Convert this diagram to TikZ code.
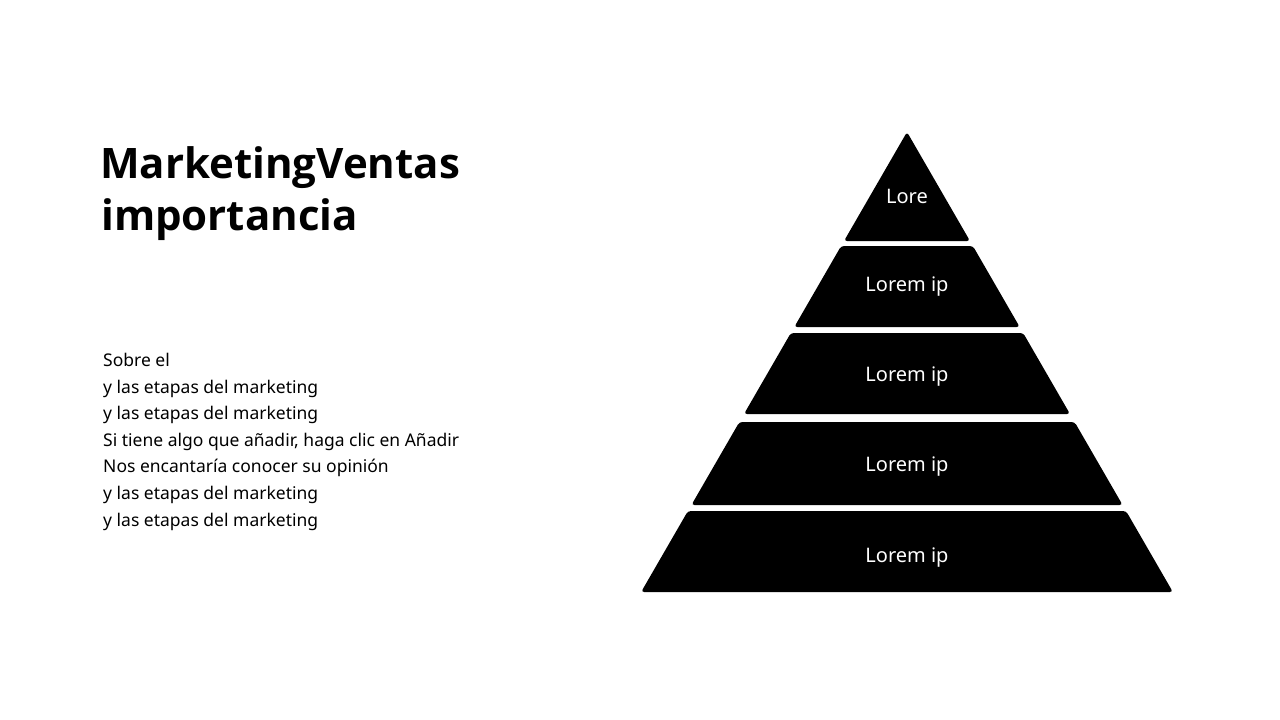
\documentclass[tikz,border=0pt]{standalone}
\usepackage{fontspec}
\setmainfont{Noto Sans}
\newfontfamily\titlefont{Open Sans}
\begin{document}
\begin{tikzpicture}[x=1pt,y=-1pt,
  tier/.style={fill=black,rounded corners=3pt},
  lab/.style={text=white,font=\fontsize{20}{24}\selectfont}]
\useasboundingbox (0,0) rectangle (1280,720);
\def\hw#1{(#1-132)*0.578}
% apex
\fill[tier] (907,132) -- ({907+\hw{241}},241) -- ({907-\hw{241}},241) -- cycle;
\foreach \t/\b in {246/327,333/414,422/505,511/592}{
  \fill[tier] ({907-\hw{\t}},\t) -- ({907+\hw{\t}},\t) -- ({907+\hw{\b}},\b) -- ({907-\hw{\b}},\b) -- cycle;
}
\node[lab] (l1) at (907,196) {Lore};
\node[lab] (l2) at (907,287) {Lorem ip};
\node[lab] (l3) at (907,377) {Lorem ip};
\node[lab] (l4) at (907,467) {Lorem ip};
\node[lab] (l5) at (907,558) {Lorem ip};
\node[anchor=north west,inner sep=0pt,align=left,
  font=\titlefont\bfseries\fontsize{42}{52}\selectfont,text=black] (title) at (101,146)
  {\kern-1pt MarketingVentas\\importancia};
\node[anchor=north west,inner sep=0pt,align=left,
  font=\fontsize{17.5}{26.6}\selectfont] (body) at (103,353)
  {Sobre el\\y las etapas del marketing\\y las etapas del marketing\\Si tiene algo que añadir, haga clic en Añadir\\Nos encantaría conocer su opinión\\y las etapas del marketing\\y las etapas del marketing};
\end{tikzpicture}
\end{document}
